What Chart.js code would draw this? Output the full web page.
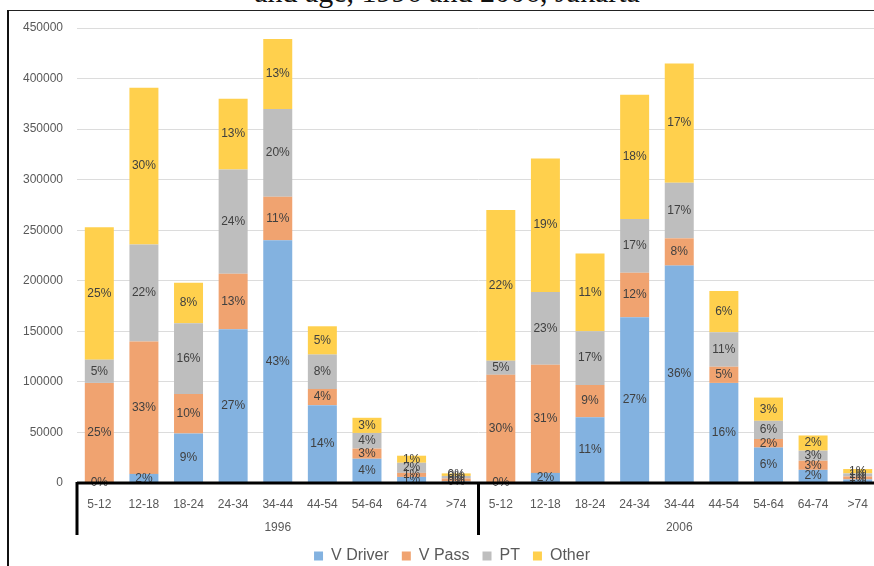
<!DOCTYPE html>
<html>
<head>
<meta charset="utf-8">
<script src="https://cdn.jsdelivr.net/npm/chart.js@4.4.0/dist/chart.umd.min.js"></script>
<style>
html, body { margin: 0; padding: 0; background: #fff; overflow: hidden; }
body { width: 874px; height: 566px; position: relative; }
#wrap { position: absolute; left: 0; top: 0; width: 880px; height: 574px; }
.title { position: absolute; left: 10px; width: 874px; top: -23px; text-align: center; font: 30px "Liberation Serif", serif; line-height: 30px; color: #111; white-space: nowrap; }
.frame-left { position: absolute; left: 7px; top: 10px; width: 2px; height: 560px; background: #111; }
.frame-top { position: absolute; left: 7px; top: 10px; width: 867px; height: 1px; background: #222; }
</style>
</head>
<body>
<div class="title">and age, 1996 and 2006, Jakarta</div>
<div class="frame-top"></div>
<div class="frame-left"></div>
<div id="wrap"><canvas id="chart" width="880" height="574"></canvas></div>
<script>
const ageGroups = ['5-12', '12-18', '18-24', '24-34', '34-44', '44-54', '54-64', '64-74', '>74'];
const years = ['1996', '2006'];
const categories = [...ageGroups, ...ageGroups];

// trips per group, 1996 then 2006
const vDriver = [0, 9000, 49000, 152000, 240000, 77000, 24000, 6000, 1500,
                 0, 10000, 65000, 164000, 215000, 99000, 35000, 13000, 3500];
const vPass = [99000, 131000, 39000, 55000, 43000, 16000, 10000, 4000, 3000,
               107000, 107000, 32000, 44000, 27000, 16000, 8500, 9000, 3000];
const pt = [23000, 96000, 70000, 103000, 87000, 34000, 15500, 10000, 2500,
            14000, 72000, 53000, 53000, 55000, 34000, 18000, 10000, 3000];
const other = [131000, 155000, 40000, 70000, 69000, 28000, 15000, 7000, 2500,
               149000, 132000, 77000, 123000, 118000, 41000, 23000, 15000, 4300];

// percentage labels shown on the segments
const driverPct = ['0%', '2%', '9%', '27%', '43%', '14%', '4%', '1%', '0%',
                   '0%', '2%', '11%', '27%', '36%', '16%', '6%', '2%', '1%'];
const passPct = ['25%', '33%', '10%', '13%', '11%', '4%', '3%', '1%', '0%',
                 '30%', '31%', '9%', '12%', '8%', '5%', '2%', '3%', '1%'];
const ptPct = ['5%', '22%', '16%', '24%', '20%', '8%', '4%', '2%', '0%',
               '5%', '23%', '17%', '17%', '17%', '11%', '6%', '3%', '1%'];
const otherPct = ['25%', '30%', '8%', '13%', '13%', '5%', '3%', '1%', '0%',
                  '22%', '19%', '11%', '18%', '17%', '6%', '3%', '2%', '1%'];

const yTicks = [0, 50000, 100000, 150000, 200000, 250000, 300000, 350000, 400000, 450000];

const pctLabels = [driverPct, passPct, ptPct, otherPct];
const font = '"Liberation Sans", Arial, sans-serif';

const segmentLabels = {
    id: 'segmentLabels',
    afterDatasetsDraw(chart) {
        const ctx = chart.ctx;
        ctx.save();
        ctx.font = '12px ' + font;
        ctx.fillStyle = '#404040';
        ctx.textAlign = 'center';
        ctx.textBaseline = 'middle';
        chart.data.datasets.forEach((ds, i) => {
            chart.getDatasetMeta(i).data.forEach((bar, j) => {
                ctx.fillText(pctLabels[i][j], bar.x, (bar.y + bar.base) / 2);
            });
        });
        ctx.restore();
    }
};

// two-level category axis: thick baseline, group separators, year labels
const groupAxis = {
    id: 'groupAxis',
    afterLayout(chart) {
        // nudge the legend so it sits where the original one does
        chart.legend.left += 7;
        chart.legend.right += 7;
    },
    afterDraw(chart) {
        const {ctx, chartArea, scales: {x}} = chart;
        const n = ageGroups.length;
        const half = (x.getPixelForValue(1) - x.getPixelForValue(0)) / 2;
        const bottom = chartArea.bottom;
        ctx.save();
        ctx.strokeStyle = '#000';
        ctx.lineWidth = 3;
        ctx.beginPath();
        ctx.moveTo(chartArea.left, bottom);
        ctx.lineTo(chartArea.right, bottom);
        for (let g = 0; g <= years.length; g++) {
            const edge = g < years.length ? x.getPixelForValue(g * n) - half : x.getPixelForValue(g * n - 1) + half;
            ctx.moveTo(edge, bottom - 1);
            ctx.lineTo(edge, bottom + 52);
        }
        ctx.stroke();
        ctx.font = '12px ' + font;
        ctx.fillStyle = '#595959';
        ctx.textAlign = 'center';
        ctx.textBaseline = 'middle';
        years.forEach((yr, g) => {
            const first = x.getPixelForValue(g * n);
            const last = x.getPixelForValue(g * n + n - 1);
            ctx.fillText(yr, (first + last) / 2, bottom + 45);
        });
        ctx.restore();
    }
};

new Chart(document.getElementById('chart'), {
    type: 'bar',
    data: {
        labels: categories,
        datasets: [
            { label: 'V Driver', data: vDriver, backgroundColor: '#83B2E0' },
            { label: 'V Pass', data: vPass, backgroundColor: '#F0A370' },
            { label: 'PT', data: pt, backgroundColor: '#BEBEBE' },
            { label: 'Other', data: other, backgroundColor: '#FFD04D' }
        ]
    },
    options: {
        responsive: false,
        animation: false,
        devicePixelRatio: 1,
        layout: { padding: { left: 10, top: 28, right: 0, bottom: 0 } },
        datasets: { bar: { categoryPercentage: 1, barPercentage: 0.65 } },
        plugins: {
            legend: {
                position: 'bottom',
                labels: {
                    boxWidth: 9,
                    boxHeight: 9,
                    padding: 13,
                    color: '#595959',
                    font: { size: 16, family: font }
                }
            },
            tooltip: { enabled: false }
        },
        scales: {
            x: {
                stacked: true,
                grid: { display: false },
                border: { display: false },
                ticks: { color: '#595959', font: { size: 12, family: font }, padding: 6, maxRotation: 0, autoSkip: false },
                afterFit(scale) { scale.height = 52; }
            },
            y: {
                stacked: true,
                min: 0,
                max: 450000,
                afterBuildTicks(scale) { scale.ticks = yTicks.map(v => ({ value: v })); },
                grid: { color: '#DCDCDC', drawTicks: false },
                border: { display: false },
                ticks: { color: '#595959', font: { size: 12, family: font }, padding: 14, callback: v => String(v) },
                afterFit(scale) { scale.width = 67; }
            }
        }
    },
    plugins: [segmentLabels, groupAxis]
});
</script>
</body>
</html>
